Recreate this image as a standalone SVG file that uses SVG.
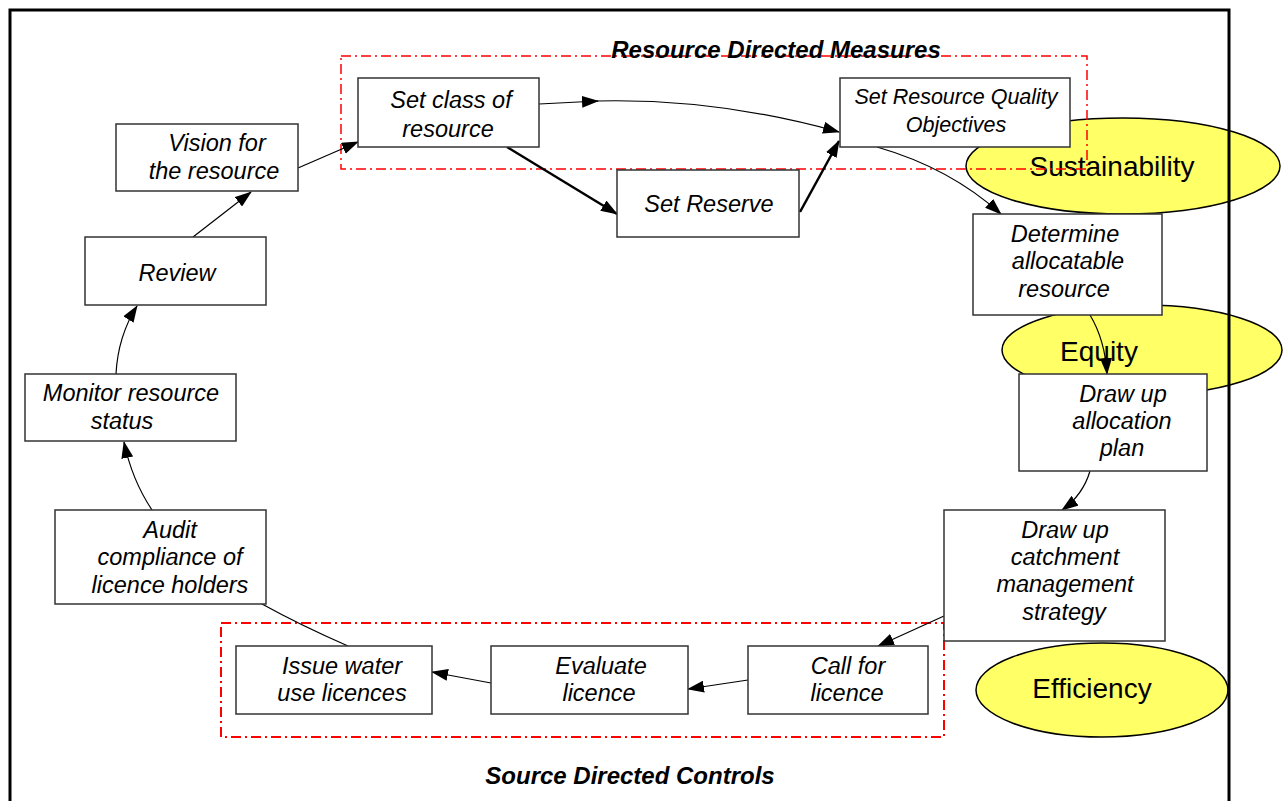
<svg xmlns="http://www.w3.org/2000/svg" width="1287" height="801" viewBox="0 0 1287 801">
<style>
.box{fill:#fff;stroke:#333;stroke-width:1.5}
.t{font-family:"Liberation Sans",Arial,sans-serif;font-style:italic;font-size:23.5px;fill:#000;text-anchor:middle}
.ts{font-size:21.5px}
.el{fill:#ffff66;stroke:#000;stroke-width:1.5}
.et{font-family:"Liberation Sans",Arial,sans-serif;font-size:28px;fill:#000;text-anchor:middle}
.title{font-family:"Liberation Sans",Arial,sans-serif;font-style:italic;font-weight:bold;font-size:24px;fill:#000;text-anchor:middle}
.red{fill:none;stroke:#ff0000;stroke-width:1.5;stroke-dasharray:10,4,2,4}
.c{fill:none;stroke:#000;stroke-width:1.2}
.ck{fill:none;stroke:#000;stroke-width:2.5}
</style>
<defs>
<marker id="ah" markerUnits="userSpaceOnUse" markerWidth="17" markerHeight="12" refX="16" refY="6" orient="auto">
<path d="M0,0 L17,6 L0,12 z" fill="#000"/>
</marker>
</defs>
<rect width="1287" height="801" fill="#fff"/>

<g id="ellipses">
<ellipse id="sustainability" class="el" cx="1123" cy="166" rx="157" ry="48"/>
<ellipse id="equity" class="el" cx="1142" cy="350" rx="140" ry="45"/>
<ellipse id="efficiency" class="el" cx="1102" cy="690" rx="126" ry="47"/>
</g>

<rect id="frame" x="10" y="10" width="1219" height="820" fill="none" stroke="#000" stroke-width="3"/>

<g id="node-sustainability-label"><text class="et" x="1112" y="176">Sustainability</text></g>
<g id="node-equity-label"><text class="et" x="1099" y="361">Equity</text></g>
<g id="node-efficiency-label"><text class="et" x="1092" y="698">Efficiency</text></g>

<g id="groups">
<rect id="resource-directed" class="red" x="341" y="56" width="746" height="113"/>
<rect id="source-directed" class="red" style="stroke-width:2" x="221" y="623" width="723" height="114"/>
<text class="title" x="776" y="58">Resource Directed Measures</text>
<text class="title" x="630" y="784">Source Directed Controls</text>
</g>

<g id="connectors">
<line class="c" x1="298" y1="168" x2="358" y2="142" marker-end="url(#ah)"/>
<line class="c" x1="193" y1="237" x2="251" y2="192" marker-end="url(#ah)"/>
<path class="c" d="M116,374 Q118,336 137,306" marker-end="url(#ah)"/>
<path class="c" d="M152,510 Q132,480 124,442" marker-end="url(#ah)"/>
<path class="c" d="M348,646 Q300,625 262,604"/>
<line class="c" x1="491" y1="683" x2="432" y2="672" marker-end="url(#ah)"/>
<line class="c" x1="748" y1="680" x2="688" y2="689" marker-end="url(#ah)"/>
<line class="c" x1="944" y1="616" x2="878" y2="646" marker-end="url(#ah)"/>
<path class="c" d="M1090,471 Q1083,495 1062,510" marker-end="url(#ah)"/>
<path class="c" d="M1090,315 Q1105,340 1107,374" marker-end="url(#ah)"/>
<path class="c" d="M877,147 Q950,168 1001,214" marker-end="url(#ah)"/>
<path class="c" d="M539,104 L598,101" marker-end="url(#ah)"/>
<path class="c" d="M597,101 C680,99 760,110 839,132" marker-end="url(#ah)"/>
<line class="ck" x1="507" y1="147" x2="617" y2="214" marker-end="url(#ah)"/>
<line class="ck" x1="800" y1="212" x2="839" y2="141" marker-end="url(#ah)"/>
</g>

<g id="node-vision"><rect class="box" x="116" y="124" width="182" height="67"/>
<text class="t" x="217" y="151">Vision for</text><text class="t" x="214" y="179">the resource</text></g>
<g id="node-review"><rect class="box" x="85" y="237" width="181" height="68"/>
<text class="t" x="177" y="281">Review</text></g>
<g id="node-monitor"><rect class="box" x="25" y="374" width="211" height="67"/>
<text class="t" x="131" y="401">Monitor resource</text><text class="t" x="122" y="429">status</text></g>
<g id="node-audit"><rect class="box" x="55" y="510" width="211" height="94"/>
<text class="t" x="170" y="538">Audit</text><text class="t" x="170" y="565">compliance of</text><text class="t" x="170" y="593">licence holders</text></g>
<g id="node-issue"><rect class="box" x="236" y="646" width="196" height="68"/>
<text class="t" x="342" y="674">Issue water</text><text class="t" x="342" y="701">use licences</text></g>
<g id="node-evaluate"><rect class="box" x="491" y="646" width="197" height="68"/>
<text class="t" x="601" y="674">Evaluate</text><text class="t" x="599" y="701">licence</text></g>
<g id="node-call"><rect class="box" x="748" y="646" width="180" height="68"/>
<text class="t" x="848" y="674">Call for</text><text class="t" x="847" y="701">licence</text></g>
<g id="node-catchment"><rect class="box" x="944" y="510" width="221" height="131"/>
<text class="t" x="1065" y="538">Draw up</text><text class="t" x="1065" y="565">catchment</text><text class="t" x="1065" y="592">management</text><text class="t" x="1064" y="620">strategy</text></g>
<g id="node-allocation"><rect class="box" x="1019" y="374" width="188" height="97"/>
<text class="t" x="1123" y="402">Draw up</text><text class="t" x="1122" y="429">allocation</text><text class="t" x="1122" y="456">plan</text></g>
<g id="node-determine"><rect class="box" x="973" y="214" width="189" height="101"/>
<text class="t" x="1065" y="242">Determine</text><text class="t" x="1068" y="269">allocatable</text><text class="t" x="1064" y="297">resource</text></g>
<g id="node-rqo"><rect class="box" x="840" y="78" width="230" height="69"/>
<text class="t ts" x="956" y="104">Set Resource Quality</text><text class="t ts" x="956" y="132">Objectives</text></g>
<g id="node-class"><rect class="box" x="358" y="78" width="181" height="69"/>
<text class="t" x="451" y="108">Set class of</text><text class="t" x="448" y="137">resource</text></g>
<g id="node-reserve"><rect class="box" x="617" y="170" width="182" height="67"/>
<text class="t" x="709" y="212">Set Reserve</text></g>
</svg>
